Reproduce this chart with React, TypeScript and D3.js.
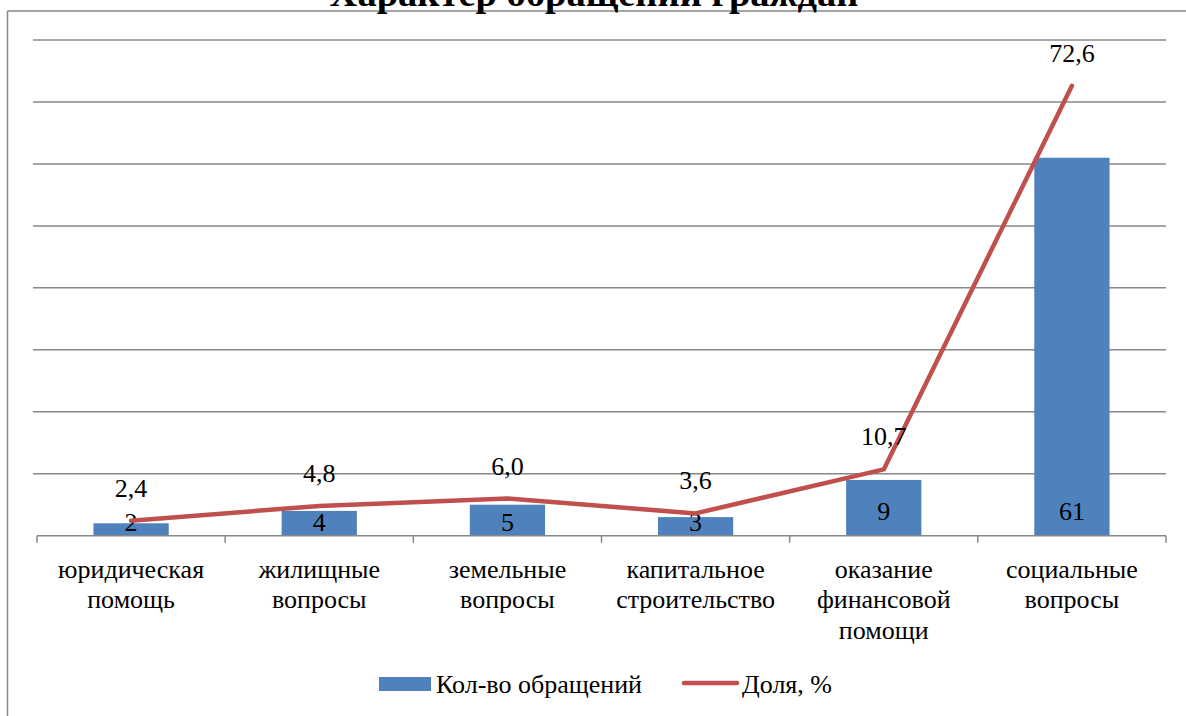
import React from "react";
import * as d3 from "d3";

const categories: string[][] = [
  ["юридическая", "помощь"],
  ["жилищные", "вопросы"],
  ["земельные", "вопросы"],
  ["капитальное", "строительство"],
  ["оказание", "финансовой", "помощи"],
  ["социальные", "вопросы"],
];
const counts: number[] = [2, 4, 5, 3, 9, 61];
const shares: number[] = [2.4, 4.8, 6.0, 3.6, 10.7, 72.6];
const shareLabels: string[] = ["2,4", "4,8", "6,0", "3,6", "10,7", "72,6"];
const gridTicks: number[] = [0, 10, 20, 30, 40, 50, 60, 70, 80];
const title = "Характер обращений граждан";
const legendBar = "Кол-во обращений";
const legendLine = "Доля, %";

const W = 1186;
const H = 716;
const FONT = '"Times New Roman"';
const BAR = "#4F81BD";
const LINE = "#C0504D";
const GRID = "#888888";
const BIG = 48;
const FS = 26;

type TProps = {
  x: number;
  y: number;
  size: number;
  anchor?: "start" | "middle" | "end";
  bold?: boolean;
  children: React.ReactNode;
};

// text is laid out at a large size and scaled down so the serif face is chosen
function T({ x, y, size, anchor = "middle", bold = false, children }: TProps) {
  return (
    <text
      transform={`translate(${x},${y}) scale(${size / BIG})`}
      x={0}
      y={0}
      fontSize={BIG}
      fontWeight={bold ? "bold" : "normal"}
      textAnchor={anchor}
      fill="#000"
      style={{ fontFamily: FONT }}
    >
      {children}
    </text>
  );
}

export default function App() {
  const idx = categories.map((_, i) => String(i));
  const x = d3.scaleBand().domain(idx).range([37, 1166]).paddingInner(0.6).paddingOuter(0.3);
  const xc = (i: number) => (x(String(i)) as number) + x.bandwidth() / 2;
  const y = d3.scaleLinear().domain([0, 80]).range([535.7, 40]);
  const step = (1166 - 37) / categories.length;
  const base = y(0);

  const lineGen = d3
    .line<number>()
    .x((_, i) => xc(i))
    .y((d) => y(d));

  return (
    <svg width={W} height={H} style={{ position: "absolute", left: 0, top: 0, display: "block", background: "#fff" }}>
      {/* outer frame */}
      <line x1={7.5} y1={11} x2={W} y2={11} stroke={GRID} strokeWidth={1.5} />
      <line x1={7.5} y1={11} x2={7.5} y2={H} stroke={GRID} strokeWidth={1.5} />
      {/* title */}
      <T x={594} y={6} size={38.5} bold>
        {title}
      </T>
      {/* gridlines */}
      {gridTicks.slice(1).map((t) => (
        <line key={t} x1={33} x2={1166} y1={y(t)} y2={y(t)} stroke={GRID} strokeWidth={1.5} />
      ))}
      {/* bars */}
      {counts.map((v, i) => (
        <rect
          key={i}
          x={x(String(i)) as number}
          y={y(v)}
          width={x.bandwidth()}
          height={base - y(v)}
          fill={BAR}
        />
      ))}
      {/* axis */}
      <line x1={37} x2={1166} y1={base} y2={base} stroke={GRID} strokeWidth={1.5} />
      {d3.range(categories.length + 1).map((i) => (
        <line
          key={i}
          x1={37 + i * step}
          x2={37 + i * step}
          y1={base}
          y2={base + 7}
          stroke={GRID}
          strokeWidth={1.5}
        />
      ))}
      {/* bar labels */}
      {counts.map((v, i) => {
        const h = base - y(v);
        const by = h > 40 ? base - 16 : base - 5;
        return (
          <T key={i} x={xc(i)} y={by} size={FS}>
            {v}
          </T>
        );
      })}
      {/* line */}
      <path d={lineGen(shares) || ""} fill="none" stroke={LINE} strokeWidth={4.5} strokeLinejoin="round" strokeLinecap="round" />
      {shares.map((v, i) => (
        <T key={i} x={xc(i)} y={y(v) - 24} size={FS}>
          {shareLabels[i]}
        </T>
      ))}
      {/* category labels */}
      {categories.map((lines, i) =>
        lines.map((l, j) => (
          <T key={`${i}-${j}`} x={xc(i)} y={578 + j * 30.3} size={FS}>
            {l}
          </T>
        ))
      )}
      {/* legend */}
      <rect x={379} y={677} width={52} height={14} fill={BAR} />
      <T x={436} y={693} size={FS} anchor="start">
        {legendBar}
      </T>
      <line x1={684} x2={737} y1={683} y2={683} stroke={LINE} strokeWidth={4.5} strokeLinecap="round" />
      <T x={742} y={693} size={FS} anchor="start">
        {legendLine}
      </T>
    </svg>
  );
}
